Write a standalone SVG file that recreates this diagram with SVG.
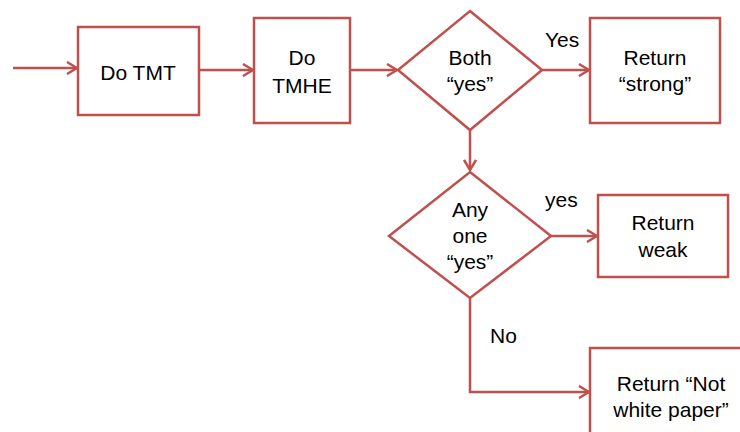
<svg xmlns="http://www.w3.org/2000/svg" width="740" height="432" viewBox="0 0 740 432">
  <style>
    .shape { fill: #ffffff; stroke: #C0504D; stroke-width: 2.5; }
    .conn { fill: none; stroke: #C0504D; stroke-width: 2.5; }
    text { font-family: "Liberation Sans", Arial, sans-serif; font-size: 21px; fill: #000000; }
    .c { text-anchor: middle; }
  </style>
  <defs>
    <marker id="arrow" viewBox="0 0 12 14" refX="11" refY="7" markerWidth="12" markerHeight="14" markerUnits="userSpaceOnUse" orient="auto">
      <path d="M1,1 L11,7 L1,13" fill="none" stroke="#C0504D" stroke-width="2.5"/>
    </marker>
  </defs>
  <rect width="740" height="432" fill="#ffffff"/>

  <g id="connectors">
    <line class="conn" x1="13" y1="68" x2="77" y2="68" marker-end="url(#arrow)"/>
    <line class="conn" x1="199" y1="70" x2="253" y2="70" marker-end="url(#arrow)"/>
    <line class="conn" x1="350" y1="70" x2="397" y2="70" marker-end="url(#arrow)"/>
    <line class="conn" x1="542" y1="70" x2="589" y2="70" marker-end="url(#arrow)"/>
    <line class="conn" x1="470" y1="130" x2="470" y2="170" marker-end="url(#arrow)"/>
    <line class="conn" x1="551" y1="236" x2="597" y2="236" marker-end="url(#arrow)"/>
    <polyline class="conn" points="470,298 470,392 589,392" marker-end="url(#arrow)"/>
    <text x="545" y="47">Yes</text>
    <text x="545" y="207">yes</text>
    <text x="490" y="343">No</text>
  </g>

  <g id="do-tmt">
    <rect class="shape" x="78" y="27" width="121" height="88"/>
    <text class="c" x="138" y="80">Do TMT</text>
  </g>

  <g id="do-tmhe">
    <rect class="shape" x="254" y="18" width="96" height="105"/>
    <text class="c" x="302" y="65">Do</text>
    <text class="c" x="302" y="93">TMHE</text>
  </g>

  <g id="both-yes">
    <polygon class="shape" points="470,11 542,70 470,130 398,70"/>
    <text class="c" x="470" y="65">Both</text>
    <text class="c" x="470" y="91">“yes”</text>
  </g>

  <g id="return-strong">
    <rect class="shape" x="590" y="18" width="130" height="105"/>
    <text class="c" x="655" y="65">Return</text>
    <text class="c" x="655" y="91">“strong”</text>
  </g>

  <g id="any-one-yes">
    <polygon class="shape" points="470,172 551,236 470,298 389,236"/>
    <text class="c" x="470" y="217">Any</text>
    <text class="c" x="470" y="243">one</text>
    <text class="c" x="470" y="269">“yes”</text>
  </g>

  <g id="return-weak">
    <rect class="shape" x="598" y="195" width="130" height="82"/>
    <text class="c" x="663" y="230">Return</text>
    <text class="c" x="663" y="257">weak</text>
  </g>

  <g id="return-not-white-paper">
    <rect class="shape" x="590" y="348" width="162" height="100"/>
    <text class="c" x="671" y="391">Return “Not</text>
    <text class="c" x="671" y="417">white paper”</text>
  </g>
</svg>
